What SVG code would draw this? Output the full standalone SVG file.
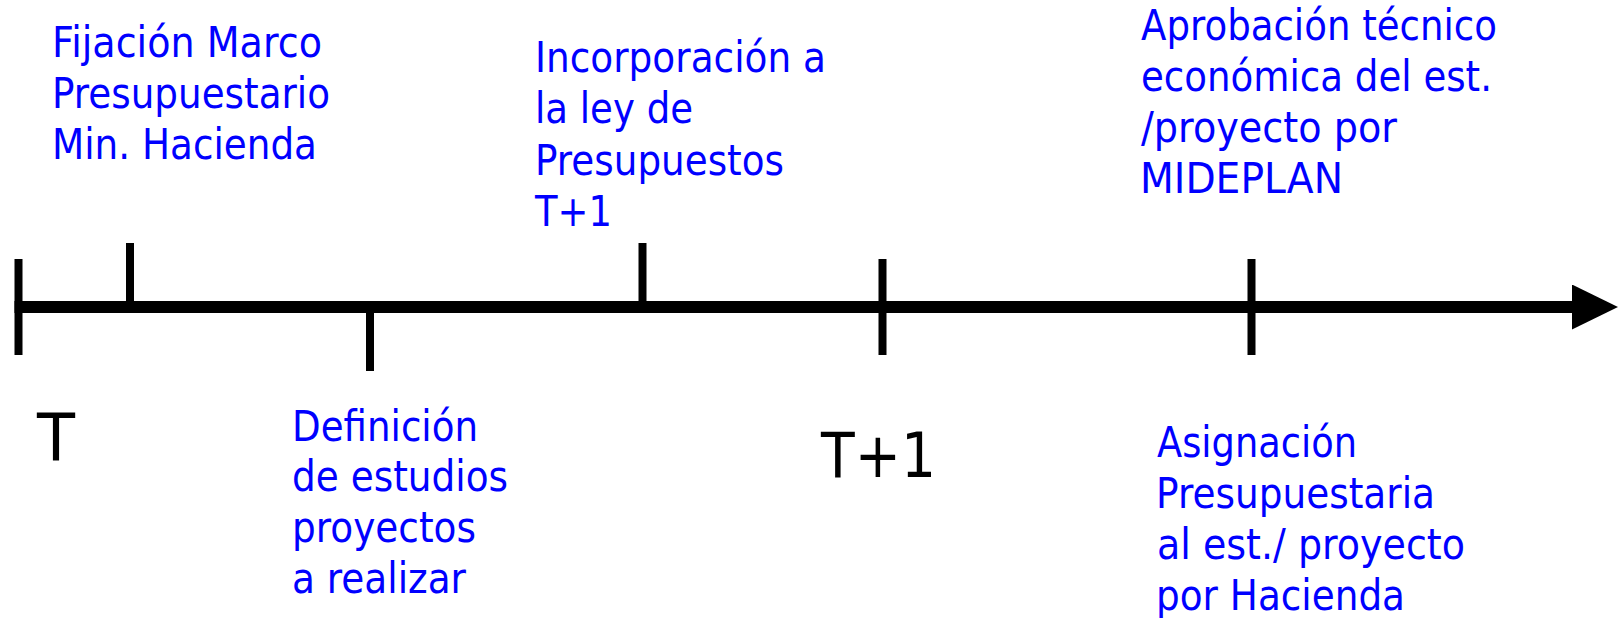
<svg xmlns="http://www.w3.org/2000/svg" width="1622" height="618" viewBox="0 0 1622 618">
<style>
.lbl{font-family:"DejaVu Sans","Liberation Sans",sans-serif;font-size:43px;fill:#0000FF}
.blk{font-family:"DejaVu Sans","Liberation Sans",sans-serif;fill:#000000}
.tick{stroke:#000000;stroke-width:8;fill:none}
.axis{stroke:#000000;stroke-width:12;fill:none}
</style>
<defs>
<marker id="arrowHead" markerUnits="userSpaceOnUse" markerWidth="48" markerHeight="46" refX="1" refY="22.5" orient="auto">
<path d="M0,0 L46,22.5 L0,45 Z" fill="#000000"/>
</marker>
</defs>
<rect width="1622" height="618" fill="#ffffff"/>
<g id="connectors">
<line class="axis" x1="14.5" y1="307" x2="1573" y2="307" marker-end="url(#arrowHead)"/>
</g>
<g id="node-T">
<line class="tick" x1="18.5" y1="259" x2="18.5" y2="355"/>
<text class="blk" font-size="66" x="37" y="461" textLength="38" lengthAdjust="spacingAndGlyphs">T</text>
</g>
<g id="node-fijacion">
<line class="tick" x1="130" y1="243" x2="130" y2="307"/>
<text class="lbl">
<tspan x="52" y="57" textLength="270" lengthAdjust="spacingAndGlyphs">Fijación Marco</tspan>
<tspan x="52" y="108" textLength="278" lengthAdjust="spacingAndGlyphs">Presupuestario</tspan>
<tspan x="52" y="159" textLength="265" lengthAdjust="spacingAndGlyphs">Min. Hacienda</tspan>
</text>
</g>
<g id="node-definicion">
<line class="tick" x1="370" y1="307" x2="370" y2="371"/>
<text class="lbl">
<tspan x="292" y="441" textLength="186" lengthAdjust="spacingAndGlyphs">Definición</tspan>
<tspan x="292" y="491" textLength="216" lengthAdjust="spacingAndGlyphs">de estudios</tspan>
<tspan x="292" y="542" textLength="184" lengthAdjust="spacingAndGlyphs">proyectos</tspan>
<tspan x="292" y="593" textLength="174" lengthAdjust="spacingAndGlyphs">a realizar</tspan>
</text>
</g>
<g id="node-incorporacion">
<line class="tick" x1="642.5" y1="243" x2="642.5" y2="307"/>
<text class="lbl">
<tspan x="535" y="72" textLength="291" lengthAdjust="spacingAndGlyphs">Incorporación a</tspan>
<tspan x="535" y="123" textLength="158" lengthAdjust="spacingAndGlyphs">la ley de</tspan>
<tspan x="535" y="175" textLength="249" lengthAdjust="spacingAndGlyphs">Presupuestos</tspan>
<tspan x="535" y="226" textLength="77" lengthAdjust="spacingAndGlyphs">T+1</tspan>
</text>
</g>
<g id="node-T1">
<line class="tick" x1="882.5" y1="259" x2="882.5" y2="355"/>
<text class="blk" font-size="62" x="821" y="477" textLength="115" lengthAdjust="spacingAndGlyphs">T+1</text>
</g>
<g id="node-aprobacion-asignacion">
<line class="tick" x1="1251.5" y1="259" x2="1251.5" y2="355"/>
<text class="lbl">
<tspan x="1141" y="40" textLength="356" lengthAdjust="spacingAndGlyphs">Aprobación técnico</tspan>
<tspan x="1141" y="91" textLength="351" lengthAdjust="spacingAndGlyphs">económica del est.</tspan>
<tspan x="1141" y="142" textLength="256" lengthAdjust="spacingAndGlyphs">/proyecto por</tspan>
<tspan x="1140" y="193" textLength="203" lengthAdjust="spacingAndGlyphs">MIDEPLAN</tspan>
</text>
<text class="lbl">
<tspan x="1157" y="457" textLength="200" lengthAdjust="spacingAndGlyphs">Asignación</tspan>
<tspan x="1156" y="508" textLength="279" lengthAdjust="spacingAndGlyphs">Presupuestaria</tspan>
<tspan x="1157" y="559" textLength="308" lengthAdjust="spacingAndGlyphs">al est./ proyecto</tspan>
<tspan x="1156" y="610" textLength="249" lengthAdjust="spacingAndGlyphs">por Hacienda</tspan>
</text>
</g>
</svg>
